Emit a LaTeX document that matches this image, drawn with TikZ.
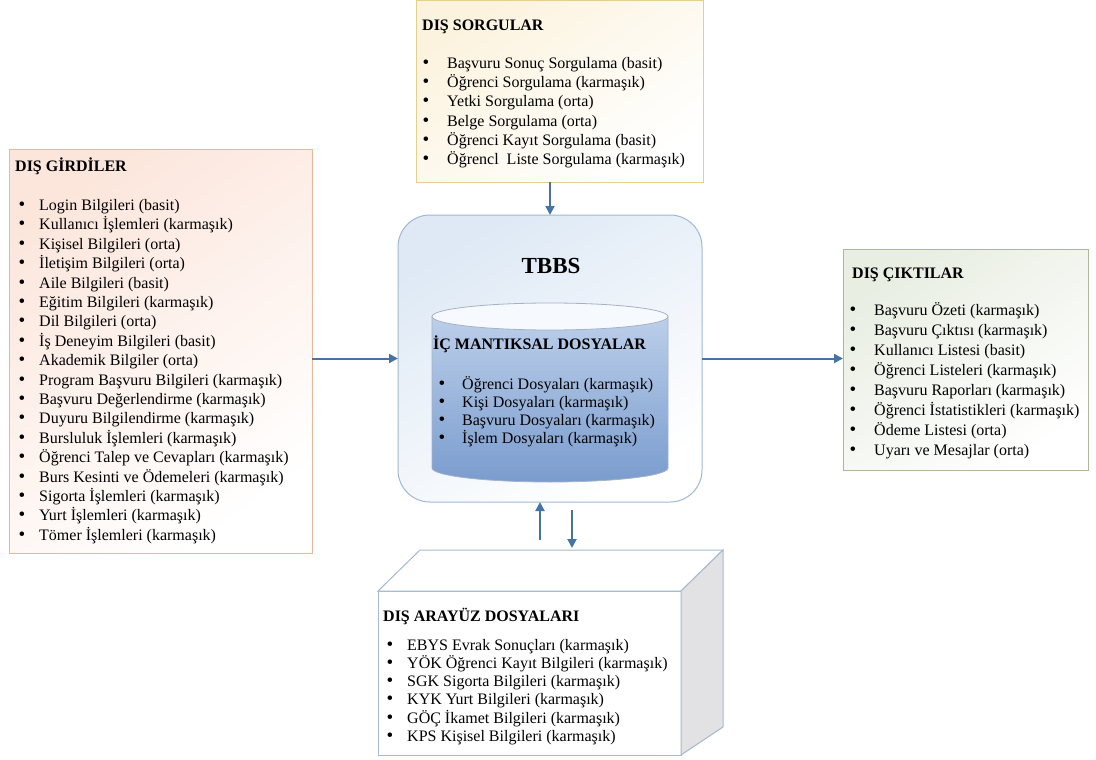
\documentclass[tikz,border=0pt]{standalone}
\usepackage{fontspec}
\setmainfont{Liberation Serif}
\usetikzlibrary{arrows.meta,calc}

\definecolor{girdiline}{RGB}{240,180,150}
\definecolor{girdifill}{RGB}{252,230,220}
\definecolor{sorguline}{RGB}{228,208,140}
\definecolor{sorgufill}{RGB}{252,243,222}
\definecolor{ciktiline}{RGB}{170,185,150}
\definecolor{ciktifill}{RGB}{232,238,226}
\definecolor{tbbsline}{RGB}{160,185,210}
\definecolor{tbbsfill}{RGB}{222,233,245}
\definecolor{okrenk}{RGB}{70,115,165}
\definecolor{silintop}{RGB}{188,207,234}
\definecolor{silinbot}{RGB}{122,156,206}
\definecolor{silinkapak}{RGB}{246,249,253}
\definecolor{silincizgi}{RGB}{165,178,196}
\definecolor{kutucizgi}{RGB}{165,186,206}
\definecolor{yanyuz}{RGB}{226,226,229}

\tikzset{
  panel/.style={draw, line width=1pt, inner sep=0pt, outer sep=0pt},
  title/.style={anchor=base west, inner sep=0pt, font=\fontsize{16}{19}\selectfont\bfseries},
  item/.style={anchor=base west, inner sep=0pt},
  bul/.style={anchor=base, inner sep=0pt, font=\fontsize{19}{19}\selectfont},
  ok/.style={draw=okrenk, line width=2pt, -{Triangle[length=9pt,width=9pt]}},
}

\begin{document}
\begin{tikzpicture}[x=1pt,y=-1pt,font=\fontsize{16}{19}\selectfont]
\useasboundingbox (0,0) rectangle (1096,760);

% ---- panels ----
\node[panel, draw=girdiline, top color=girdifill, bottom color=white, shading angle=35,
      minimum width=303pt, minimum height=404pt] (girdi) at (160.5,351) {};
\node[panel, draw=sorguline, top color=sorgufill, bottom color=white, shading angle=35,
      minimum width=287pt, minimum height=181pt] (sorgu) at (559.5,91.5) {};
\node[panel, draw=ciktiline, top color=ciktifill, bottom color=white, shading angle=35,
      minimum width=245pt, minimum height=221pt] (cikti) at (965.5,359.5) {};
\node[panel, draw=tbbsline, top color=tbbsfill, bottom color=white, shading angle=30,
      rounded corners=32pt, minimum width=304pt, minimum height=287pt] (tbbs) at (550,358.5) {};

% ---- internal logical files (cylinder) ----
\shade[top color=silintop, bottom color=silinbot, draw=silincizgi, line width=0.8pt]
  (432,316.5) -- (432,468) arc[start angle=180, end angle=0, x radius=118, y radius=14]
  -- (668,316.5) -- cycle;
\filldraw[fill=silinkapak, draw=silincizgi, line width=0.8pt]
  (550,316.5) ellipse[x radius=118, y radius=13.5];

% ---- external interface files (box) ----
\node[panel, draw=kutucizgi, fill=white, minimum width=303pt, minimum height=164pt] (arayuz) at (529.5,673) {};
\filldraw[fill=white, draw=kutucizgi, line width=1pt]
  (arayuz.north west) -- ++(42,-41) -- ($(arayuz.north east)+(42,-41)$) -- (arayuz.north east) -- cycle;
\filldraw[fill=yanyuz, draw=kutucizgi, line width=1pt]
  (arayuz.north east) -- ++(42,-41) -- ($(arayuz.south east)+(42,-28)$) -- (arayuz.south east) -- cycle;
\coordinate (ust) at ($(arayuz.north)+(0,-41)$);

% ---- texts ----
\node[title] (girdi-t) at (15,171) {DIŞ GİRDİLER};
\foreach \t [count=\i from 0] in {
  {Login Bilgileri (basit)},
  {Kullanıcı İşlemleri (karmaşık)},
  {Kişisel Bilgileri (orta)},
  {İletişim Bilgileri (orta)},
  {Aile Bilgileri (basit)},
  {Eğitim Bilgileri (karmaşık)},
  {Dil Bilgileri (orta)},
  {İş Deneyim Bilgileri (basit)},
  {Akademik Bilgiler (orta)},
  {Program Başvuru Bilgileri (karmaşık)},
  {Başvuru Değerlendirme (karmaşık)},
  {Duyuru Bilgilendirme (karmaşık)},
  {Bursluluk İşlemleri (karmaşık)},
  {Öğrenci Talep ve Cevapları (karmaşık)},
  {Burs Kesinti ve Ödemeleri (karmaşık)},
  {Sigorta İşlemleri (karmaşık)},
  {Yurt İşlemleri (karmaşık)},
  {Tömer İşlemleri (karmaşık)}} {
  \node[bul] (girdi-b\i) at (22,{210.5+19.4*\i}) {•};
  \node[item] (girdi-\i) at (39,{210.5+19.4*\i}) {\t};
}

\node[title] (sorgu-t) at (422,31) {DIŞ SORGULAR};
\foreach \t [count=\i from 0] in {
  {Başvuru Sonuç Sorgulama (basit)},
  {Öğrenci Sorgulama (karmaşık)},
  {Yetki Sorgulama (orta)},
  {Belge Sorgulama (orta)},
  {Öğrenci Kayıt Sorgulama (basit)},
  {Öğrencl~ Liste Sorgulama (karmaşık)}} {
  \node[bul] (sorgu-b\i) at (426,{68.5+19.2*\i}) {•};
  \node[item] (sorgu-\i) at (447,{68.5+19.2*\i}) {\t};
}

\node[title] (cikti-t) at (852,278) {DIŞ ÇIKTILAR};
\foreach \t [count=\i from 0] in {
  {Başvuru Özeti (karmaşık)},
  {Başvuru Çıktısı (karmaşık)},
  {Kullanıcı Listesi (basit)},
  {Öğrenci Listeleri (karmaşık)},
  {Başvuru Raporları (karmaşık)},
  {Öğrenci İstatistikleri (karmaşık)},
  {Ödeme Listesi (orta)},
  {Uyarı ve Mesajlar (orta)}} {
  \node[bul] (cikti-b\i) at (853,{315.5+20*\i}) {•};
  \node[item] (cikti-\i) at (874,{315.5+20*\i}) {\t};
}

\node[anchor=base, inner sep=0pt, font=\fontsize{23}{27}\selectfont\bfseries] (tbbs-t) at (551,273) {TBBS};
\node[title] (ic-t) at (433,349.5) {İÇ MANTIKSAL DOSYALAR};
\foreach \t [count=\i from 0] in {
  {Öğrenci Dosyaları (karmaşık)},
  {Kişi Dosyaları (karmaşık)},
  {Başvuru Dosyaları (karmaşık)},
  {İşlem Dosyaları (karmaşık)}} {
  \node[bul] (ic-b\i) at (442,{389+18*\i}) {•};
  \node[item] (ic-\i) at (462,{389+18*\i}) {\t};
}

\node[title] (arayuz-t) at (383,621) {DIŞ ARAYÜZ DOSYALARI};
\foreach \t [count=\i from 0] in {
  {EBYS Evrak Sonuçları (karmaşık)},
  {YÖK Öğrenci Kayıt Bilgileri (karmaşık)},
  {SGK Sigorta Bilgileri (karmaşık)},
  {KYK Yurt Bilgileri (karmaşık)},
  {GÖÇ İkamet Bilgileri (karmaşık)},
  {KPS Kişisel Bilgileri (karmaşık)}} {
  \node[bul] (arayuz-b\i) at (390,{650+18.3*\i}) {•};
  \node[item] (arayuz-\i) at (407,{650+18.3*\i}) {\t};
}

% ---- connectors ----
\draw[ok] (sorgu.south -| tbbs.north) -- (tbbs.north);
\draw[ok] (girdi.east |- tbbs.west) -- (tbbs.west);
\draw[ok] (tbbs.east) -- (cikti.west |- tbbs.east);
\coordinate (yukari) at ([xshift=-10pt]tbbs.south);
\coordinate (asagi) at ([xshift=22pt]tbbs.south);
\draw[ok] ($(yukari |- ust)+(0,-10)$) -- (yukari);
\draw[ok, shorten >=2pt] ($(asagi)+(0,8)$) -- (asagi |- ust);
\end{tikzpicture}
\end{document}
